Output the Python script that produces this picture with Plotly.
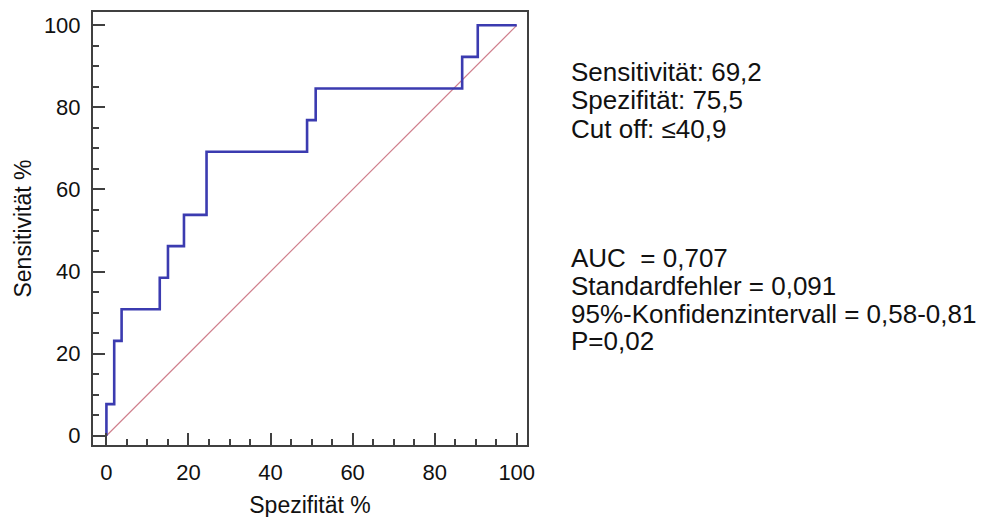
import plotly.graph_objects as go

# ROC curve data
fpr = [0, 0, 1.9, 3.7, 13.0, 15.0, 18.9, 24.4, 48.9, 51.0, 86.7, 90.5, 100]
sens = [0, 7.7, 23.1, 30.8, 38.5, 46.2, 53.8, 69.2, 76.9, 84.6, 92.3, 100, 100]
diag_x = [0, 100]
diag_y = [0, 100]
tick_vals = [0, 20, 40, 60, 80, 100]
tick_text = ["0", "20", "40", "60", "80", "100"]

stats_top = ["Sensitivität: 69,2", "Spezifität: 75,5", "Cut off: ≤40,9"]
stats_bottom = ["AUC  = 0,707", "Standardfehler = 0,091",
                "95%-Konfidenzintervall = 0,58-0,81", "P=0,02"]

W, H = 989, 517
OFF = 8  # default page body margin
L, T = 93 - OFF, 12 - OFF
plot_w = 527 - 93
plot_h = 445 - 12
R = W - L - plot_w
B = H - T - plot_h

fig = go.Figure()
fig.add_trace(go.Scatter(x=diag_x, y=diag_y, mode="lines",
                         line=dict(color="#cf7f8c", width=1.2),
                         hoverinfo="skip", showlegend=False))
fig.add_trace(go.Scatter(x=fpr, y=sens, mode="lines", line_shape="hv",
                         line=dict(color="#3b3bb0", width=2.6),
                         showlegend=False))

font_main = "Liberation Sans, Arial, sans-serif"
axis_common = dict(
    showline=True, mirror=True, linewidth=2, linecolor="#404040",
    showgrid=False, zeroline=False,
    ticks="inside", ticklen=12, tickwidth=2, tickcolor="#404040",
    tickvals=tick_vals, ticktext=tick_text,
    tickfont=dict(family=font_main, size=22, color="#111111"),
    minor=dict(ticks="inside", ticklen=6, tickwidth=1.5, tickcolor="#404040", dtick=5, tick0=0),
)

fig.update_layout(
    width=W, height=H,
    margin=dict(l=L, r=R, t=T, b=B, autoexpand=False),
    paper_bgcolor="white", plot_bgcolor="white",
    xaxis=dict(range=[-3.27, 102.5],
               title=dict(text="Spezifität %", font=dict(family=font_main, size=23, color="#111111"), standoff=12),
               ticklabelstandoff=7,
               **axis_common),
    yaxis=dict(range=[-2.26, 103.24],
               title=dict(text="Sensitivität %", font=dict(family=font_main, size=23, color="#111111"), standoff=6),
               ticklabelstandoff=6,
               **axis_common),
)

def py(p):
    return (445 - p) / plot_h

x_text = (569 - 93) / plot_w
for i, t in enumerate(stats_top):
    fig.add_annotation(x=x_text, y=py(72 + 28.5 * i), xref="paper", yref="paper",
                       text=t, showarrow=False, xanchor="left", yanchor="middle",
                       font=dict(family=font_main, size=26, color="#111111"))
for i, t in enumerate(stats_bottom):
    fig.add_annotation(x=x_text, y=py(258 + 27.8 * i), xref="paper", yref="paper",
                       text=t, showarrow=False, xanchor="left", yanchor="middle",
                       font=dict(family=font_main, size=26, color="#111111"))

fig.write_html("out.html")
